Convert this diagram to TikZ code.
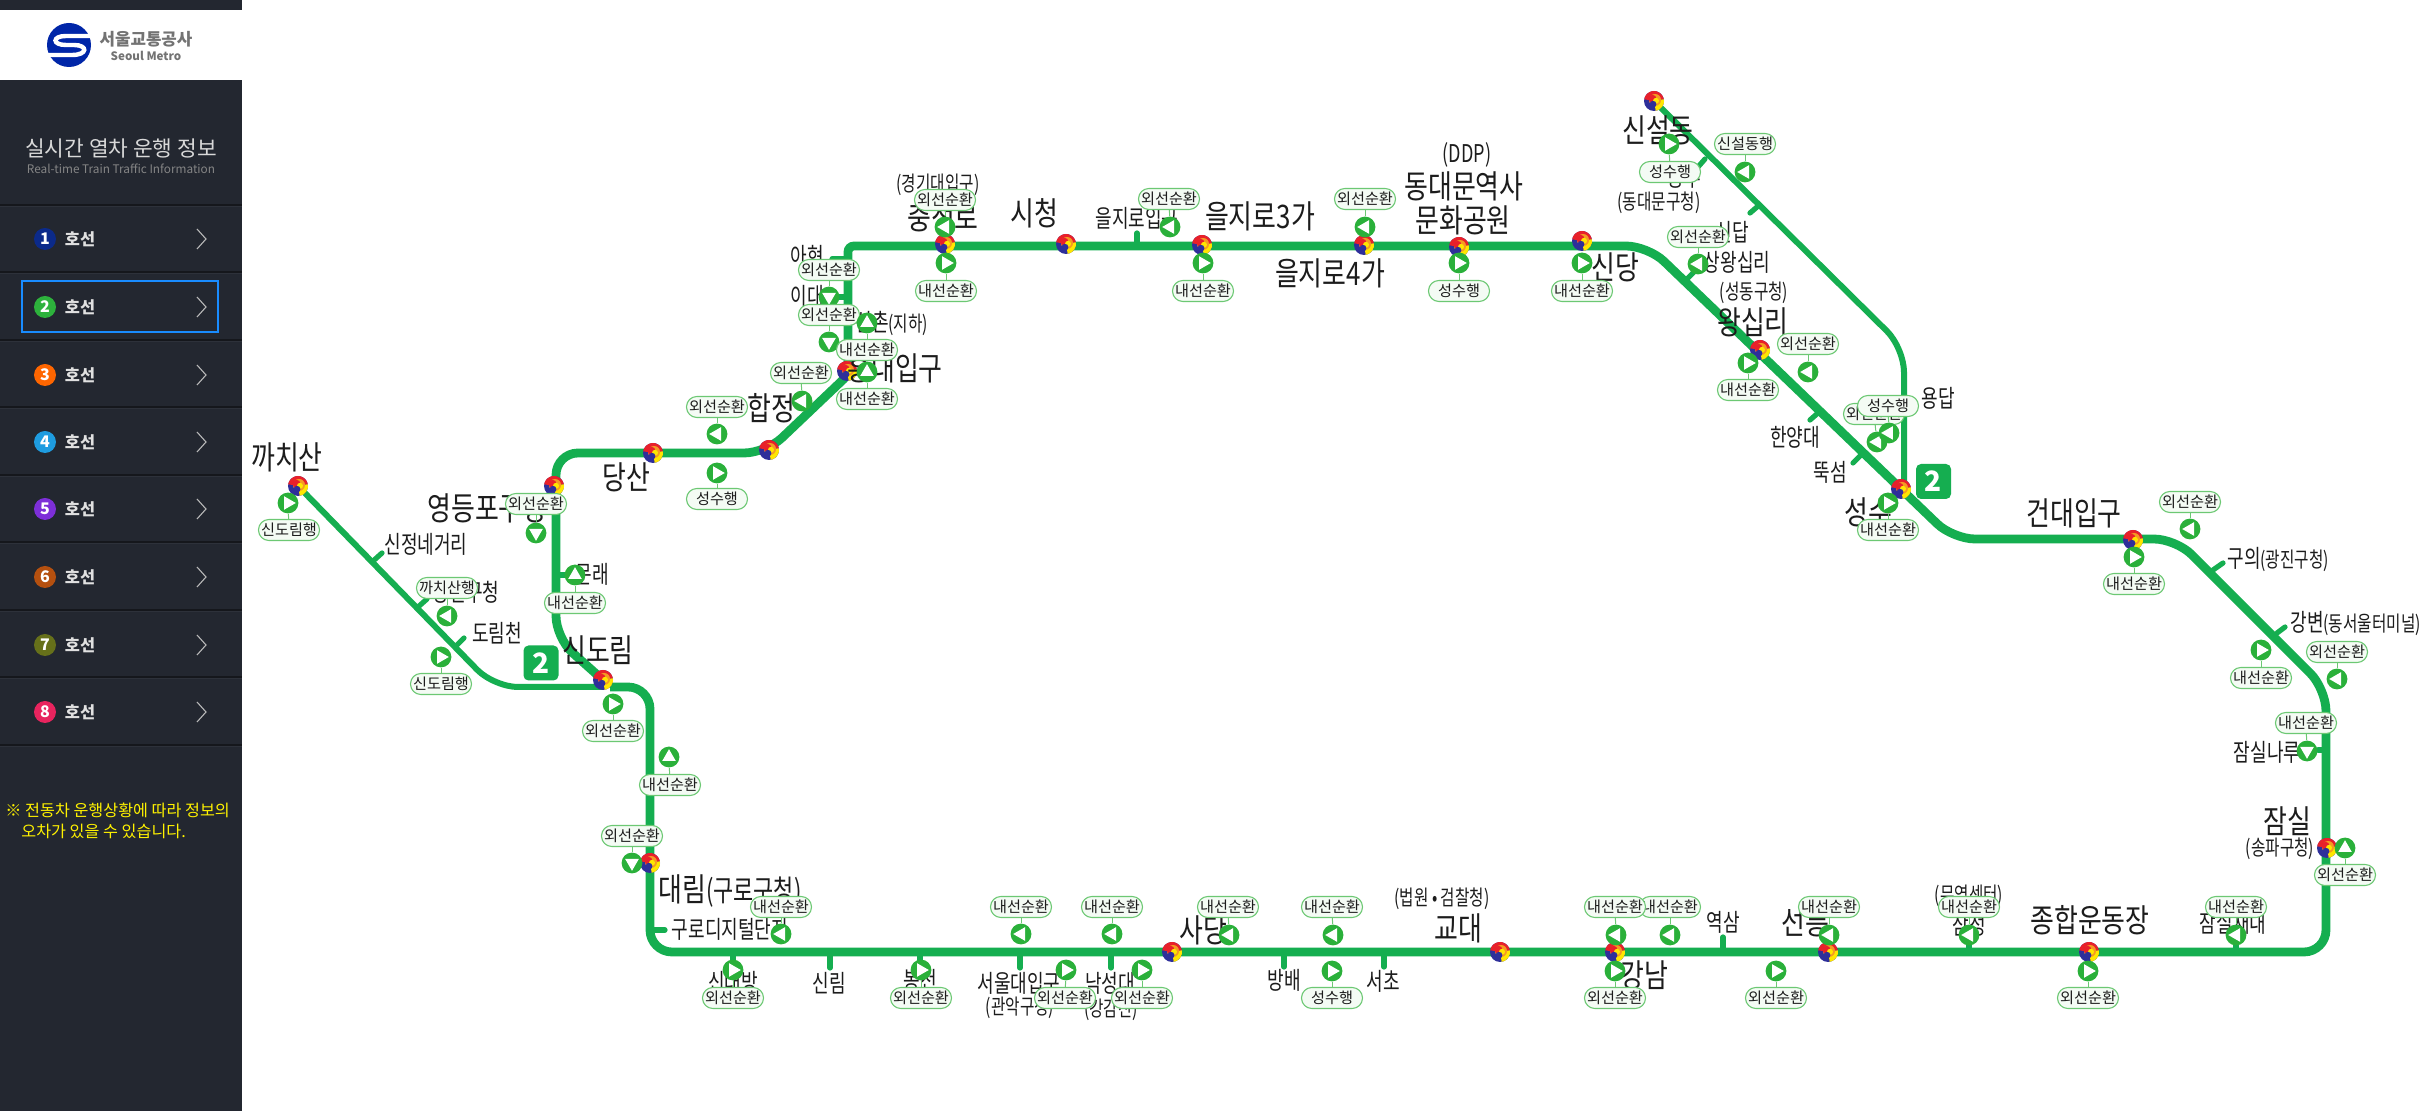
\documentclass[tikz,border=0pt]{standalone}
\usepackage{fontspec}
\setmainfont{Noto Sans CJK KR}
\newfontfamily\kbig[FakeStretch=0.8]{Noto Sans CJK KR}
\newfontfamily\kmed[FakeStretch=0.74]{Noto Sans CJK KR}
\definecolor{line2}{HTML}{15AE50}
\definecolor{mk}{HTML}{2AB03A}
\definecolor{pillb}{HTML}{6CC873}
\definecolor{pillf}{HTML}{F4FBF4}
\definecolor{side}{HTML}{232730}
\definecolor{sep}{HTML}{15171C}
\definecolor{sepl}{HTML}{2D313A}
\definecolor{txt}{HTML}{1C1C1C}
\definecolor{tgblue}{HTML}{2E2F9A}
\definecolor{tgred}{HTML}{E8202A}
\definecolor{tgyel}{HTML}{FFE600}
\definecolor{tgora}{HTML}{F59A23}
\tikzset{
  bigt/.style={font=\kbig\fontsize{16.2}{16}\selectfont,text=txt,inner sep=0pt},
  medt/.style={font=\kmed\fontsize{12.2}{12}\selectfont,text=txt,inner sep=0pt},
  smlt/.style={font=\kmed\fontsize{10.6}{10}\selectfont,text=txt,inner sep=0pt},
  mainline/.style={line2,line width=4.4pt,rounded corners=11pt},
  branchline/.style={line2,line width=3pt,rounded corners=12pt},
  stub/.style={line2,line width=2.6pt,line cap=round},
  pillnode/.style={draw=pillb,fill=pillf,line width=.55pt,rounded corners=5.2pt,minimum width=30.5pt,minimum height=10.5pt,inner sep=0pt,font=\fontsize{7.6}{7}\selectfont,text=txt},
  marker/.style={circle,fill=mk,minimum size=10.4pt,inner sep=0pt},
  stem/.style={pillb,line width=.5pt},
  badge/.style={fill=line2,rounded corners=2.5pt,minimum size=17.5pt,inner sep=0pt,text=white,font=\bfseries\fontsize{14}{14}\selectfont},
  rowtxt/.style={text=white!88!black,font=\bfseries\fontsize{8.2}{9}\selectfont,inner sep=0pt},
  numc/.style={circle,minimum size=11pt,inner sep=0pt,text=white,font=\bfseries\fontsize{8}{8}\selectfont},
  chev/.style={white!72!black,line width=.55pt},
  note/.style={text=yellow,font=\fontsize{8.1}{8}\selectfont,inner sep=0pt,anchor=west},
}
% taegeuk interchange symbol at a named coordinate
\newcommand{\stn}[1]{%
  \begin{scope}[shift={(#1)},x=.5pt,y=.5pt]
    \fill[tgblue] (0,0) circle[radius=10];
    \fill[tgred] (0,0) -- (10:10) arc[start angle=10,end angle=170,radius=10] -- cycle;
    \fill[tgyel] (0,0) -- (-80:10) arc[start angle=-80,end angle=10,radius=10] -- cycle;
    \fill[tgora] (1,1) circle[radius=6];
    \fill[tgred] (-1.5,2.2) circle[radius=4];
    \fill[tgyel] (2,.2) circle[radius=3];
    \fill[tgblue] (-1,-3.2) circle[radius=3.4];
  \end{scope}}
% train: id, marker x, y, angle, label, label x, y
\newcommand{\trn}[7]{%
  \node[marker] (#1m) at (#2,#3) {};
  \node[pillnode] (#1l) at (#6,#7) {#5};
  \draw[stem] (#1l) -- (#1m);
  \begin{scope}[shift={(#1m)},rotate=#4,x=.5pt,y=.5pt]
    \fill[white] (-4,-6.8) -- (7.8,0) -- (-4,6.8) -- cycle;
  \end{scope}}
\newcommand{\stb}[5]{\coordinate (#1a) at (#2,#3); \coordinate (#1b) at (#4,#5); \draw[stub] (#1a) -- (#1b);}
\newcommand{\rowitem}[4]{%
  \node[numc,fill=#3] (n#1) at (45,#2) {#1};
  \node[rowtxt] (h#1) at (80,#2) {호선};
  \coordinate (c#1a) at (197,#2-10); \coordinate (c#1b) at (206,#2); \coordinate (c#1c) at (197,#2+10);
  \draw[chev] (c#1a) -- (c#1b) -- (c#1c);}
\begin{document}
\begin{tikzpicture}[x=.5pt,y=-.5pt]
\path[use as bounding box,fill=white] (0,0) rectangle (2422,1111);
% sidebar
\fill[side] (0,0) rectangle (242,1111);
\fill[white] (0,10) rectangle (242,80);
\fill[blue!60!black!85!cyan] (69,45) circle[radius=22];
\draw[white,line width=2.2pt] (91,36) -- (66,36) .. controls (52,36) and (52,45) .. (66,45) -- (74,45) .. controls (88,45) and (88,55) .. (72,55) -- (47,55);
\node[inner sep=0pt,text=black!55,font=\bfseries\fontsize{8.4}{8}\selectfont] (logoa) at (146,39) {서울교통공사};
\node[inner sep=0pt,text=black!55,font=\bfseries\fontsize{5.8}{6}\selectfont] (logob) at (146,56) {Seoul Metro};
\node[inner sep=0pt,text=white!85!black,font=\fontsize{10.7}{11}\selectfont] (title) at (121,149) {실시간 열차 운행 정보};
\node[inner sep=0pt,text=white!52!black,font=\fontsize{5.9}{6}\selectfont] (subt) at (121,169) {Real-time Train Traffic Information};
\foreach \yy in {205,272,340,407,475,542,610,677,745}{
  \draw[sep,line width=.7pt] (0,\yy) -- (242,\yy);
  \draw[sepl,line width=.5pt] (0,\yy+2) -- (242,\yy+2);
}
\definecolor{n1}{HTML}{0B2A8A}\definecolor{n2}{HTML}{2DB23C}\definecolor{n3}{HTML}{FF6600}\definecolor{n4}{HTML}{1E9CE0}
\definecolor{n5}{HTML}{7D2FD8}\definecolor{n6}{HTML}{B5500F}\definecolor{n7}{HTML}{66701A}\definecolor{n8}{HTML}{E8245E}
\rowitem{1}{239}{n1}{}\rowitem{2}{307}{n2}{}\rowitem{3}{375}{n3}{}\rowitem{4}{442}{n4}{}
\rowitem{5}{509}{n5}{}\rowitem{6}{577}{n6}{}\rowitem{7}{645}{n7}{}\rowitem{8}{712}{n8}{}
\draw[blue!50!cyan!90!white,line width=1pt] (22,281) rectangle (218,332);
\node[note] (note1) at (5,810) {※ 전동차 운행상황에 따라 정보의};
\node[note] (note2) at (21,831) {오차가 있을 수 있습니다.};
% station coordinates
\coordinate (kkachisan) at (298,486);
\coordinate (sindorim) at (603,680);
\coordinate (yeongdeungpo) at (554,486);
\coordinate (dangsan) at (653,453);
\coordinate (hapjeong) at (769,450);
\coordinate (hongdae) at (847,371);
\coordinate (chungjeongno) at (945,244);
\coordinate (cityhall) at (1066,244);
\coordinate (euljiro3) at (1202,245);
\coordinate (euljiro4) at (1364,245);
\coordinate (ddp) at (1459,247);
\coordinate (sindang) at (1582,241);
\coordinate (sinseol) at (1654,101);
\coordinate (wangsimni) at (1760,350);
\coordinate (seongsu) at (1901,489);
\coordinate (konkuk) at (2133,540);
\coordinate (jamsil) at (2327,848);
\coordinate (sports) at (2089,952);
\coordinate (seolleung) at (1828,952);
\coordinate (gangnam) at (1615,952);
\coordinate (gyodae) at (1500,952);
\coordinate (sadang) at (1172,952);
\coordinate (daerim) at (650,863);
% route corners
\coordinate (k1) at (556,638);\coordinate (k2) at (556,453);\coordinate (k3) at (766,453);
\coordinate (k4) at (848,375);\coordinate (k5) at (848,246);\coordinate (k6) at (1648,246);
\coordinate (k7) at (1953,539);\coordinate (k8) at (2176,539);\coordinate (k9) at (2326,689);
\coordinate (k10) at (2326,952);\coordinate (k11) at (650,952);\coordinate (k12) at (650,687);
\coordinate (k13) at (610,687);
\coordinate (b1) at (494,687);\coordinate (b2) at (1904,348);
% branches and loop
\draw[branchline] (kkachisan) -- (b1) -- (sindorim |- b1);
\draw[branchline] (sinseol) -- (b2) -- (seongsu -| b2);
\draw[mainline] (sindorim) -- (k1) -- (k2) -- (k3) [rounded corners=3pt] -- (k4) -- (k5) [rounded corners=11pt] -- (k6) -- (k7) -- (k8) -- (k9) -- (k10) -- (k11) -- (k12) -- (k13);
% stubs for ordinary stations
\stb{sa}{372}{562}{382}{553}
\stb{sb}{418}{607}{427}{599}
\stb{sc}{455}{647}{464}{638}
\stb{sd}{650}{930}{665}{930}
\stb{se}{733}{952}{733}{966}
\stb{sf}{830}{952}{830}{968}
\stb{sg}{920}{952}{920}{966}
\stb{sh}{1020}{952}{1020}{968}
\stb{si}{1111}{952}{1111}{968}
\stb{sj}{1284}{952}{1284}{967}
\stb{sk}{1384}{952}{1384}{967}
\stb{sl}{1723}{952}{1723}{937}
\stb{sm}{1969}{952}{1969}{940}
\stb{sn}{2236}{952}{2236}{940}
\stb{so}{556}{575}{566}{575}
\stb{sp}{848}{297}{838}{297}
\stb{sq}{848}{259}{832}{259}
\stb{sr}{1137}{245}{1137}{233}
\stb{ss}{1698}{167}{1705}{159}
\stb{st}{1750}{213}{1757}{207}
\stb{su}{1685}{281}{1695}{271}
\stb{sv}{1810}{420}{1818}{413}
\stb{sw}{1853}{463}{1860}{456}
\stb{sx}{2213}{570}{2223}{563}
\stb{sy}{2277}{633}{2285}{627}
\stb{sz}{2326}{750}{2318}{750}
% interchange symbols
\foreach \s in {kkachisan,sindorim,yeongdeungpo,dangsan,hapjeong,hongdae,chungjeongno,cityhall,euljiro3,euljiro4,ddp,sindang,sinseol,wangsimni,seongsu,konkuk,jamsil,sports,seolleung,gangnam,gyodae,sadang,daerim}{\stn{\s}}
% line badges
\node[badge] (bd1) at (541,663) {2};
\node[badge] (bd2) at (1933.5,481.5) {2};
% station names
\node[bigt] (t1) at (287,457) {까치산};
\node[bigt] (t2) at (487,508) {영등포구청};
\node[medt] (t3) at (426,544) {신정네거리};
\node[medt] (t4) at (466,592) {양천구청};
\node[medt] (t5) at (497,633) {도림천};
\node[medt] (t6) at (592,574) {문래};
\node[bigt] (t7) at (598,650) {신도림};
\node[bigt] (t8) at (626,477) {당산};
\node[bigt] (t9) at (771,408) {합정};
\node[bigt] (t10) at (895,368) {홍대입구};
\node[medt,anchor=west] (t11) at (855,323) {신촌\kmed\fontsize{10.6}{10}\selectfont(지하)};
\node[medt,anchor=west] (t12) at (790,296) {이대};
\node[medt,anchor=west] (t13) at (790,256) {아현};
\node[bigt] (t14) at (943,217) {충정로};
\node[smlt] (t15) at (938,185) {(경기대입구)};
\node[bigt] (t16) at (1034,213) {시청};
\node[medt] (t17) at (1137,218) {을지로입구};
\node[bigt] (t18) at (1260,216) {을지로3가};
\node[bigt] (t19) at (1330,273) {을지로4가};
\node[medt] (t20) at (1467,155) {(DDP)};
\node[bigt] (t21) at (1464,186) {동대문역사};
\node[bigt] (t22) at (1463,220) {문화공원};
\node[bigt] (t23) at (1615,267) {신당};
\node[bigt] (t24) at (1658,130) {신설동};
\node[medt] (t25) at (1684,178) {용두};
\node[smlt] (t26) at (1659,203) {(동대문구청)};
\node[medt] (t27) at (1732,232) {신답};
\node[medt] (t28) at (1737,262) {상왕십리};
\node[smlt] (t29) at (1754,293) {(성동구청)};
\node[bigt] (t30) at (1753,322) {왕십리};
\node[medt] (t31) at (1795,437) {한양대};
\node[medt] (t32) at (1830,472) {뚝섬};
\node[medt] (t33) at (1938,398) {용답};
\node[bigt] (t34) at (1868,512) {성수};
\node[bigt] (t35) at (2074,513) {건대입구};
\node[medt,anchor=west] (t36) at (2227,559) {구의\kmed\fontsize{10.6}{10}\selectfont(광진구청)};
\node[medt,anchor=west] (t37) at (2290,623) {강변\kmed\fontsize{10.6}{10}\selectfont(동서울터미널)};
\node[medt] (t38) at (2267,752) {잠실나루};
\node[bigt] (t39) at (2287,821) {잠실};
\node[smlt] (t40) at (2280,849) {(송파구청)};
\node[bigt] (t41) at (2090,920) {종합운동장};
\node[medt] (t42) at (2233,923) {잠실새내};
\node[medt] (t43) at (1969,925) {삼성};
\node[smlt] (t44) at (1969,896) {(무역센터)};
\node[bigt] (t45) at (1805,922) {선릉};
\node[bigt] (t46) at (1644,975) {강남};
\node[medt] (t47) at (1723,922) {역삼};
\node[bigt] (t48) at (1458,928) {교대};
\node[smlt] (t49) at (1442,899) {(법원 • 검찰청)};
\node[medt] (t50) at (1383,981) {서초};
\node[medt] (t51) at (1284,980) {방배};
\node[bigt] (t52) at (1203,930) {사당};
\node[bigt,anchor=west] (t53) at (658,891) {대림\kmed\fontsize{14.8}{14}\selectfont(구로구청)};
\node[medt] (t54) at (730,929) {구로디지털단지};
\node[medt] (t55) at (733,982) {신대방};
\node[medt] (t56) at (829,983) {신림};
\node[medt] (t57) at (920,980) {봉천};
\node[medt] (t58) at (1019,983) {서울대입구};
\node[smlt] (t59) at (1020,1008) {(관악구청)};
\node[medt] (t60) at (1110,983) {낙성대};
\node[smlt] (t61) at (1111,1010) {(강감찬)};
% trains
\trn{a}{288}{503}{0}{신도림행}{289}{530}
\trn{b}{536}{533}{-90}{외선순환}{536}{504}
\trn{c}{575}{575}{90}{내선순환}{575}{603}
\trn{d}{447}{616}{180}{까치산행}{447}{588}
\trn{e}{441}{657}{0}{신도림행}{441}{684}
\trn{f}{613}{704}{0}{외선순환}{613}{731}
\trn{g}{632}{863}{-90}{외선순환}{632}{836}
\trn{h}{669}{757}{90}{내선순환}{670}{785}
\trn{i}{781}{934}{180}{내선순환}{781}{907}
\trn{j}{733}{970}{0}{외선순환}{733}{998}
\trn{k}{921}{970}{0}{외선순환}{921}{998}
\trn{l}{1021}{934}{180}{내선순환}{1021}{907}
\trn{m}{1066}{970}{0}{외선순환}{1065}{998}
\trn{n}{1112}{934}{180}{내선순환}{1112}{907}
\trn{o}{1142}{970}{0}{외선순환}{1142}{998}
\trn{p}{1229}{935}{180}{내선순환}{1228}{907}
\trn{q}{1333}{935}{180}{내선순환}{1332}{907}
\trn{r}{1332}{971}{0}{성수행}{1332}{998}
\trn{u}{1670}{935}{180}{내선순환}{1670}{907}
\trn{s}{1616}{935}{180}{내선순환}{1615}{907}
\trn{t}{1615}{971}{0}{외선순환}{1615}{998}
\trn{v}{1776}{971}{0}{외선순환}{1776}{998}
\trn{w}{1829}{935}{180}{내선순환}{1829}{907}
\trn{x}{1969}{935}{180}{내선순환}{1969}{907}
\trn{y}{2088}{971}{0}{외선순환}{2088}{998}
\trn{z}{2236}{935}{180}{내선순환}{2236}{907}
\trn{aa}{2345}{848}{90}{외선순환}{2345}{875}
\trn{ab}{2307}{751}{-90}{내선순환}{2306}{723}
\trn{ac}{2337}{679}{180}{외선순환}{2337}{652}
\trn{ad}{2261}{650}{0}{내선순환}{2261}{678}
\trn{ae}{2190}{529}{180}{외선순환}{2190}{502}
\trn{af}{2134}{557}{0}{내선순환}{2134}{584}
\trn{ag}{1888}{503}{0}{내선순환}{1888}{530}
\trn{ah}{1877}{442}{180}{외선순환}{1874}{414}
\trn{ai}{1889}{433}{-60}{성수행}{1888}{406}
\trn{aj}{1808}{372}{180}{외선순환}{1808}{344}
\trn{ak}{1748}{363}{0}{내선순환}{1748}{390}
\trn{al}{1698}{264}{180}{외선순환}{1698}{237}
\trn{am}{1582}{263}{0}{내선순환}{1582}{291}
\trn{an}{1745}{172}{180}{신설동행}{1745}{144}
\trn{ao}{1669}{144}{0}{성수행}{1670}{172}
\trn{ap}{1459}{263}{0}{성수행}{1459}{291}
\trn{aq}{1365}{227}{180}{외선순환}{1365}{199}
\trn{ar}{1203}{263}{0}{내선순환}{1203}{291}
\trn{as}{1170}{227}{180}{외선순환}{1169}{199}
\trn{at}{945}{227}{180}{외선순환}{945}{200}
\trn{au}{946}{263}{0}{내선순환}{946}{291}
\trn{av}{829}{297}{-90}{외선순환}{829}{270}
\trn{aw}{829}{342}{-90}{외선순환}{829}{315}
\trn{ax}{867}{323}{90}{내선순환}{867}{350}
\trn{ay}{867}{372}{90}{내선순환}{867}{399}
\trn{az}{802}{401}{180}{외선순환}{801}{373}
\trn{ba}{717}{434}{180}{외선순환}{717}{407}
\trn{bb}{717}{473}{0}{성수행}{717}{499}
\end{tikzpicture}
\end{document}
